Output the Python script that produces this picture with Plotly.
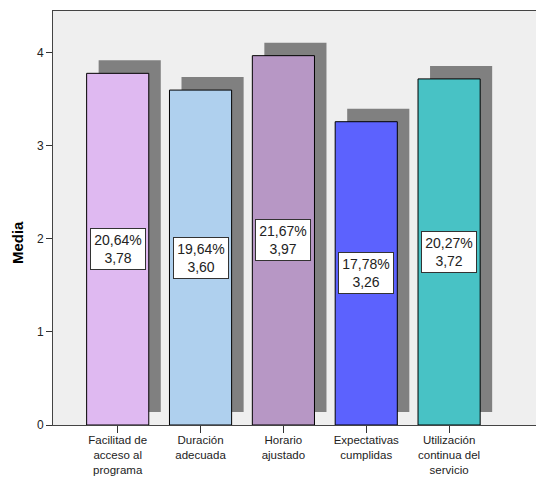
import plotly.graph_objects as go

categories = ["Facilitad de<br>acceso al<br>programa", "Duración<br>adecuada", "Horario<br>ajustado",
              "Expectativas<br>cumplidas", "Utilización<br>continua del<br>servicio"]
means = [3.78, 3.60, 3.97, 3.26, 3.72]
percents = ["20,64%", "19,64%", "21,67%", "17,78%", "20,27%"]
mean_labels = ["3,78", "3,60", "3,97", "3,26", "3,72"]
colors = ["#DFB9F1", "#AFD0EE", "#B797C5", "#5C62FE", "#48C2C5"]

FONT = "Liberation Sans, Arial, sans-serif"
idx = list(range(len(categories)))
shadow_dx = 0.145
shadow_dy = 0.14

fig = go.Figure()
fig.add_trace(go.Bar(x=[i + shadow_dx for i in idx], y=means, base=shadow_dy, width=0.75,
                     marker=dict(color="#808080", line=dict(width=0)), hoverinfo="skip"))
fig.add_trace(go.Bar(x=idx, y=means, width=0.75,
                     marker=dict(color=colors, line=dict(color="#000000", width=1))))

for i, v, p, m in zip(idx, means, percents, mean_labels):
    fig.add_annotation(x=i, y=v / 2, text=f"{p}<br>{m}", showarrow=False,
                       bgcolor="white", bordercolor="#333333", borderwidth=1, borderpad=1,
                       width=52, height=38, align="center", valign="middle",
                       font=dict(family=FONT, size=14, color="#222222"))

fig.add_annotation(xref="paper", yref="paper", x=-0.072, y=0.44, text="<b>Media</b>",
                   textangle=-90, showarrow=False, xanchor="center", yanchor="middle",
                   font=dict(family=FONT, size=15, color="#000000"))

fig.update_layout(
    width=536, height=477, autosize=False,
    margin=dict(l=53, r=0, t=11, b=52, pad=0, autoexpand=False),
    barmode="overlay", showlegend=False,
    plot_bgcolor="#EFEFEF", paper_bgcolor="#FFFFFF",
    font=dict(family=FONT, size=12, color="#222222"),
    xaxis=dict(range=[-0.781, 5.049], tickvals=idx, ticktext=categories, automargin=False,
               ticks="outside", ticklen=7, tickcolor="#333333", showgrid=False, zeroline=False,
               showline=True, linecolor="#444444", linewidth=1, mirror=True,
               ticklabelstandoff=-3,
               tickfont=dict(family=FONT, size=11.5, color="#222222"), tickangle=0),
    yaxis=dict(range=[0, 4.45], tickvals=[0, 1, 2, 3, 4], ticks="outside", ticklen=6,
               automargin=False,
               tickcolor="#333333", showgrid=False, zeroline=False,
               showline=True, linecolor="#444444", linewidth=1, mirror=True,
               tickfont=dict(family=FONT, size=12, color="#222222")),
)

post = ("var h=document.documentElement,b=document.body;"
        "h.style.margin='0';h.style.padding='0';h.style.overflow='hidden';"
        "b.style.margin='0';b.style.padding='0';b.style.overflow='hidden';")
fig.write_html("out.html", config={"displayModeBar": False}, post_script=post)
